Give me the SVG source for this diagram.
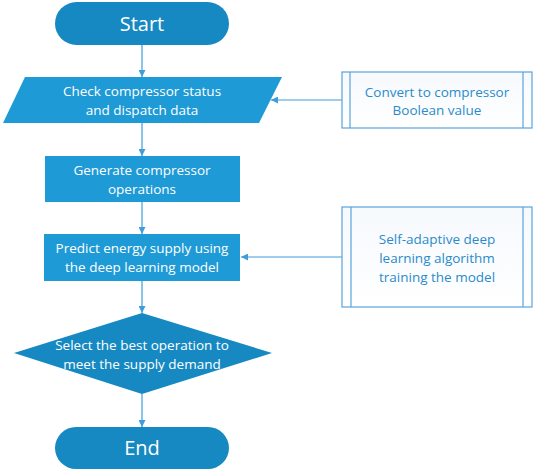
<svg xmlns="http://www.w3.org/2000/svg" width="533" height="475" viewBox="0 0 533 475">
<defs>
<style>
.term{fill:#1689c2;}
.proc{fill:#1e9ad6;}
.dec{fill:#1689c2;}
.wt{fill:#ffffff;font-family:"Open Sans","Noto Sans",sans-serif;font-size:13.5px;text-anchor:middle;}
.big{font-size:20px;}
.bt{fill:#2a8bcb;font-family:"Open Sans","Noto Sans",sans-serif;font-size:13.5px;text-anchor:middle;}
.box{fill:url(#g);stroke:#5aa3db;stroke-width:1.2;}
.inner{stroke:#5aa3db;stroke-width:1.2;fill:none;}
.conn{stroke:#3d9edb;stroke-width:1.2;fill:none;marker-end:url(#ah);}
</style>
<linearGradient id="g" x1="0" y1="0" x2="0" y2="1">
<stop offset="0" stop-color="#f6f9fd"/>
<stop offset="1" stop-color="#ffffff"/>
</linearGradient>
<marker id="ah" viewBox="0 0 10 10" refX="10" refY="5" markerWidth="7" markerHeight="7" markerUnits="userSpaceOnUse" orient="auto">
<path d="M0,0 L10,5 L0,10 z" fill="#3d9edb"/>
</marker>
</defs>
<rect width="533" height="475" fill="#ffffff"/>
<g id="connectors">
<line class="conn" x1="142" y1="45" x2="142" y2="77"/>
<line class="conn" x1="142" y1="123" x2="142" y2="156"/>
<line class="conn" x1="142" y1="202" x2="142" y2="234"/>
<line class="conn" x1="142" y1="281" x2="142" y2="313"/>
<line class="conn" x1="142" y1="394" x2="142" y2="427"/>
<line class="conn" x1="342" y1="100" x2="271" y2="100"/>
<line class="conn" x1="342" y1="257" x2="241" y2="257"/>
</g>
<g id="start">
<rect class="term" x="55" y="2" width="174" height="43" rx="21.5"/>
<text class="wt big" x="142" y="31">Start</text>
</g>
<g id="check">
<polygon class="proc" points="25,77 282,77 259,123 3,123"/>
<text class="wt" x="142" y="96">Check compressor status</text>
<text class="wt" x="142" y="115">and dispatch data</text>
</g>
<g id="generate">
<rect class="proc" x="45" y="156" width="195" height="46"/>
<text class="wt" x="142" y="175">Generate compressor</text>
<text class="wt" x="142" y="194">operations</text>
</g>
<g id="predict">
<rect class="proc" x="44" y="234" width="196" height="47"/>
<text class="wt" x="142" y="253">Predict energy supply using</text>
<text class="wt" x="142" y="272">the deep learning model</text>
</g>
<g id="select">
<polygon class="dec" points="142,313 272,353 142,394 14,353"/>
<text class="wt" x="142" y="350">Select the best operation to</text>
<text class="wt" x="142" y="369">meet the supply demand</text>
</g>
<g id="end">
<rect class="term" x="55" y="427" width="174" height="42" rx="21"/>
<text class="wt big" x="142" y="455">End</text>
</g>
<g id="convert">
<rect class="box" x="342" y="72" width="190" height="56"/>
<line class="inner" x1="350" y1="72" x2="350" y2="128"/>
<line class="inner" x1="523" y1="72" x2="523" y2="128"/>
<text class="bt" x="437" y="97">Convert to compressor</text>
<text class="bt" x="437" y="115">Boolean value</text>
</g>
<g id="selfadaptive">
<rect class="box" x="342" y="207" width="190" height="100"/>
<line class="inner" x1="351" y1="207" x2="351" y2="307"/>
<line class="inner" x1="523" y1="207" x2="523" y2="307"/>
<text class="bt" x="437" y="244">Self-adaptive deep</text>
<text class="bt" x="437" y="263">learning algorithm</text>
<text class="bt" x="437" y="282">training the model</text>
</g>
</svg>
